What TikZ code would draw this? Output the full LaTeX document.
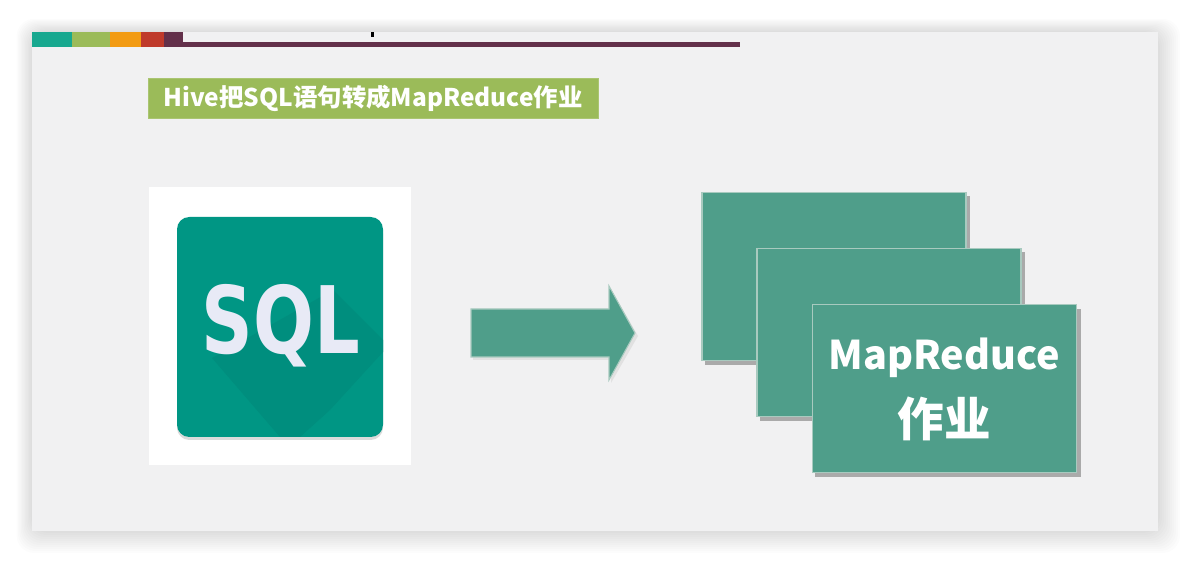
\documentclass[tikz,border=0pt]{standalone}
\usepackage{fontspec}
\setmainfont{Liberation Sans}
\newfontfamily\cjk{Noto Sans CJK SC}
\newfontfamily\sqlfont{DejaVu Sans}
\usepackage{xcolor}
\usepackage{graphicx}
\usetikzlibrary{arrows.meta,calc,positioning}
\definecolor{slidegray}{HTML}{F1F1F2}
\definecolor{stripteal}{HTML}{17A88F}
\definecolor{stripgreen}{HTML}{9BBB59}
\definecolor{striporange}{HTML}{F29B13}
\definecolor{stripred}{HTML}{BF3A2B}
\definecolor{strippurple}{HTML}{63304A}
\definecolor{cardgreen}{HTML}{4F9E8A}
\definecolor{cardedge}{HTML}{A8CABF}
\definecolor{iconteal}{HTML}{009684}
\definecolor{icondark}{HTML}{008E7E}
\definecolor{iconfont}{HTML}{E8EAF6}
\tikzset{
  cardbox/.style={draw=cardedge, fill=cardgreen, line width=0.9pt, minimum width=5.28cm, minimum height=3.36cm, inner sep=0pt},
  cardshade/.style={fill=black!45, opacity=0.7},
  cardtext/.style={text=white, inner sep=0pt},
  titlebox/.style={fill=stripgreen, draw=stripgreen!85!white, text=white, inner sep=0pt, minimum width=9cm, minimum height=0.8cm}
}
\begin{document}
\begin{tikzpicture}[x=0.02cm, y=-0.02cm]
  \useasboundingbox (0,0) rectangle (1190,563);
  % soft edge of the slide
  \foreach \d in {22,20,...,2}{
    \fill[black, opacity=0.012, rounded corners=10pt] (32-0.7*\d,32-0.6*\d) rectangle (1158+\d,531+\d);
  }
  \fill[slidegray] (32,32) rectangle (1158,531);

  % strip on top
  \fill[stripteal] (32,32) rectangle (72,47);
  \fill[stripgreen] (72,32) rectangle (110,47);
  \fill[striporange] (110,32) rectangle (141,47);
  \fill[stripred] (141,32) rectangle (164,47);
  \fill[strippurple] (164,32) rectangle (183,47);
  \fill[strippurple] (183,42) rectangle (740,47);
  \fill[black] (371,32) rectangle (374,37);

  \node[titlebox] (title) at (373,98) {\cjk\bfseries\fontsize{13.9}{16}\selectfont Hive把SQL语句转成MapReduce作业};

  % icon
  \fill[white] (149,187) rectangle (411,465);
  \fill[black!40, opacity=0.35, rounded corners=7pt] (177,221) rectangle (383,440);
  \fill[iconteal, rounded corners=7pt] (177,217) rectangle (383,437);
  \fill[icondark] (333,290) -- (383,340) -- (383,352) -- (330,410) -- (300,437) -- (280,437) -- (212,358) -- cycle;
  \node[text=iconfont, inner sep=0pt] (sql) at (281,326) {\scalebox{0.77}[1]{\sqlfont\bfseries\fontsize{53}{53}\selectfont SQL}};

  % arrow
  \fill[black!30, opacity=0.25] (473,312) -- (611,312) -- (611,289) -- (638,336) -- (611,383) -- (611,360) -- (473,360) -- cycle;
  \draw[fill=cardgreen, draw=cardedge, line width=0.6pt] (471,309) -- (609,309) -- (609,286) -- (635,333) -- (609,380) -- (609,357) -- (471,357) -- cycle;

  % job cards
  \foreach \cx/\cy in {834/276.5,889/332.5}{
    \fill[cardshade] (\cx-129,\cy-80) rectangle (\cx+136,\cy+89);
    \node[cardbox] at (\cx,\cy) {};
  }
  \fill[cardshade] (815,309) rectangle (1081,477);
  \node[cardbox] (job) at (944.5,388.5) {};
  \node[cardtext] (jobname) at (944,358) {\cjk\bfseries\fontsize{22.5}{24}\selectfont MapReduce};
  \node[cardtext] (jobword) at (944,419) {\cjk\bfseries\fontsize{26.5}{28}\selectfont 作业};
\end{tikzpicture}
\end{document}
